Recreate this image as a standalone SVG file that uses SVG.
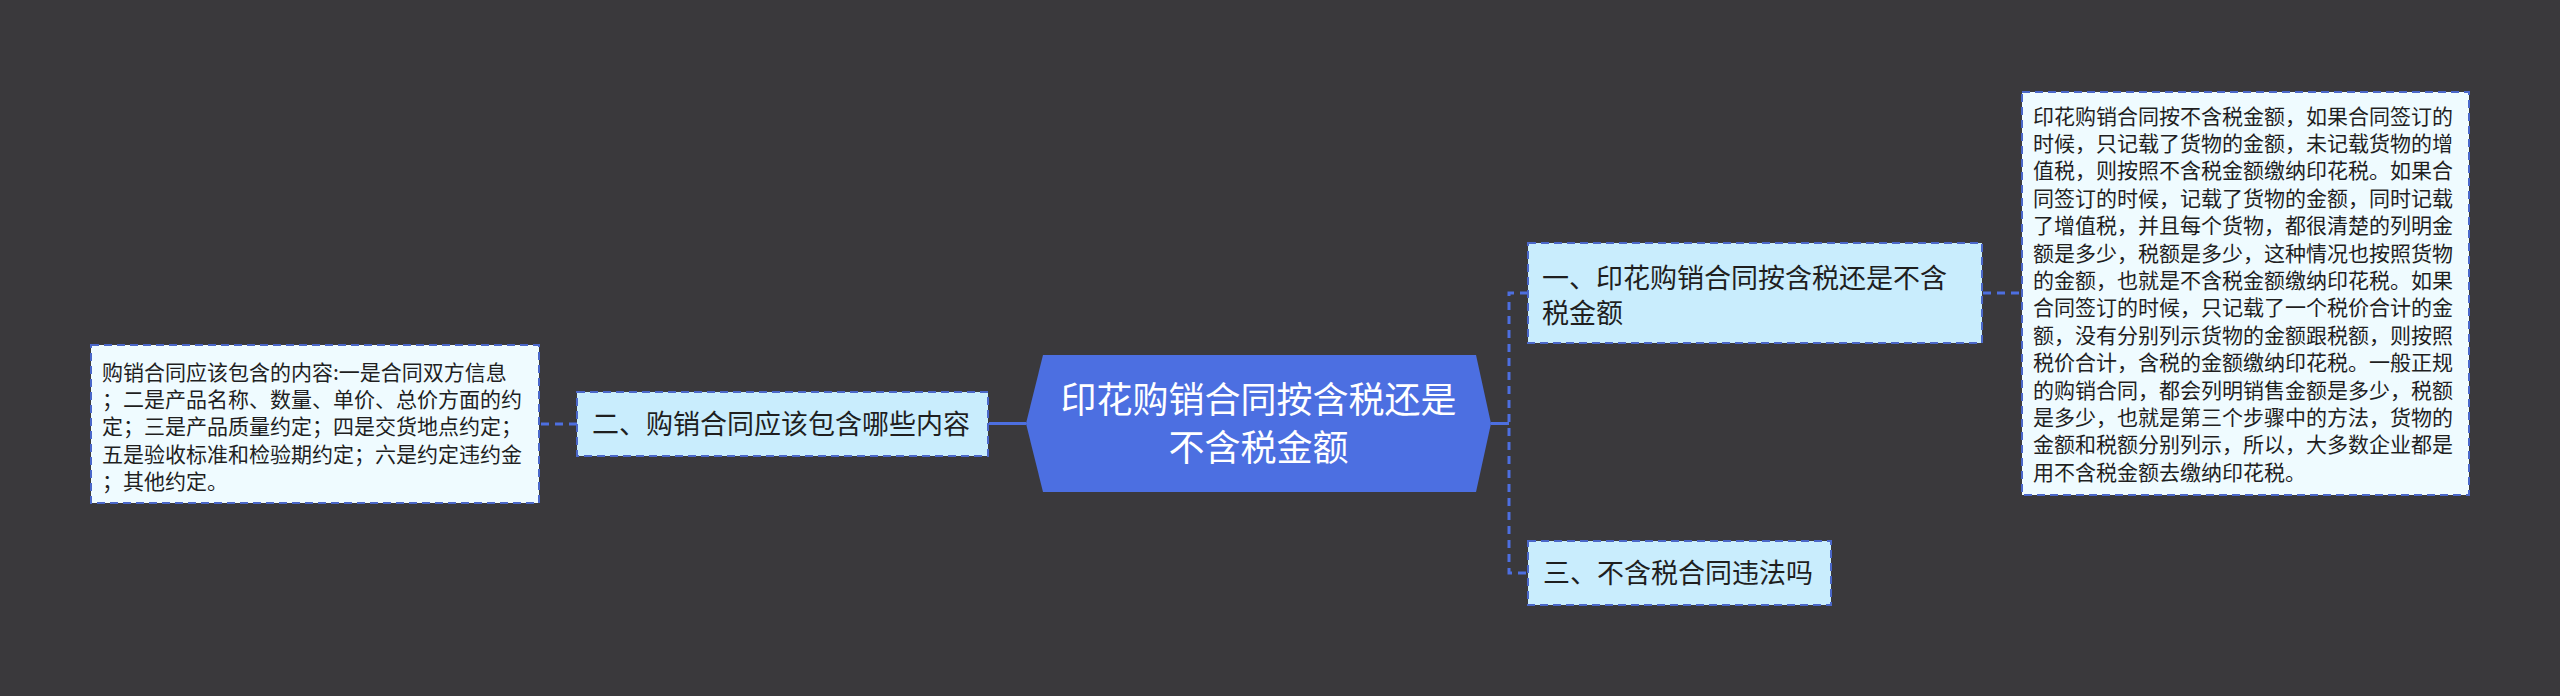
<svg xmlns="http://www.w3.org/2000/svg" width="2560" height="696" viewBox="0 0 2560 696">
<style>
.t{font-family:"Noto Sans CJK SC","Noto Sans",sans-serif;fill:#1f1f1f}
.node{fill:#c9edfd;stroke:#4a67c9;stroke-width:2;stroke-dasharray:8 5}
.leaf{fill:#effbff;stroke:#4a67c9;stroke-width:2;stroke-dasharray:8 5}
.solid{fill:none;stroke:#4d6fe0;stroke-width:3}
.dash{fill:none;stroke:#4d6fe0;stroke-width:3;stroke-dasharray:8 6}
</style>
<rect width="2560" height="696" fill="#3a393c"/>
<g id="connectors">
<path class="solid" d="M1491 423.5H1509"/>
<path class="dash" d="M1528 293H1509V573H1528"/>
<path class="dash" d="M1983 293H2022"/>
<path class="solid" d="M1026 423.5H989"/>
<path class="dash" d="M577 424H539"/>
</g>
<g id="root">
<polygon points="1043,355 1476,355 1491,423.5 1476,492 1043,492 1026,423.5" fill="#4c6fe1"/>
<text class="t" x="1258.5" y="412.5" font-size="36" text-anchor="middle" style="fill:#ffffff">印花购销合同按含税还是</text>
<text class="t" x="1258.5" y="460.5" font-size="36" text-anchor="middle" style="fill:#ffffff">不含税金额</text>
</g>
<g id="node1">
<rect class="node" x="1528" y="243" width="454" height="100"/>
<text class="t" x="1542" y="287.5" font-size="27">一、印花购销合同按含税还是不含</text>
<text class="t" x="1542" y="322.5" font-size="27">税金额</text>
</g>
<g id="node1-detail">
<rect class="leaf" x="2022" y="92" width="447" height="403"/>
<g class="t" font-size="21">
<text x="2033" y="123.5">印花购销合同按不含税金额，如果合同签订的</text>
<text x="2033" y="150.9">时候，只记载了货物的金额，未记载货物的增</text>
<text x="2033" y="178.3">值税，则按照不含税金额缴纳印花税。如果合</text>
<text x="2033" y="205.7">同签订的时候，记载了货物的金额，同时记载</text>
<text x="2033" y="233.1">了增值税，并且每个货物，都很清楚的列明金</text>
<text x="2033" y="260.5">额是多少，税额是多少，这种情况也按照货物</text>
<text x="2033" y="287.9">的金额，也就是不含税金额缴纳印花税。如果</text>
<text x="2033" y="315.3">合同签订的时候，只记载了一个税价合计的金</text>
<text x="2033" y="342.7">额，没有分别列示货物的金额跟税额，则按照</text>
<text x="2033" y="370.1">税价合计，含税的金额缴纳印花税。一般正规</text>
<text x="2033" y="397.5">的购销合同，都会列明销售金额是多少，税额</text>
<text x="2033" y="424.9">是多少，也就是第三个步骤中的方法，货物的</text>
<text x="2033" y="452.3">金额和税额分别列示，所以，大多数企业都是</text>
<text x="2033" y="479.7">用不含税金额去缴纳印花税。</text>
</g>
</g>
<g id="node2">
<rect class="node" x="577" y="392" width="411" height="64"/>
<text class="t" x="592" y="434" font-size="27">二、购销合同应该包含哪些内容</text>
</g>
<g id="node2-detail">
<rect class="leaf" x="91" y="345" width="448" height="158"/>
<g class="t" font-size="21">
<text x="102" y="379.5">购销合同应该包含的内容:一是合同双方信息</text>
<text x="102" y="406.9">；二是产品名称、数量、单价、总价方面的约</text>
<text x="102" y="434.3">定；三是产品质量约定；四是交货地点约定；</text>
<text x="102" y="461.7">五是验收标准和检验期约定；六是约定违约金</text>
<text x="102" y="489.1">；其他约定。</text>
</g>
</g>
<g id="node3">
<rect class="node" x="1528" y="541" width="303" height="64"/>
<text class="t" x="1543" y="582.5" font-size="27">三、不含税合同违法吗</text>
</g>
</svg>
